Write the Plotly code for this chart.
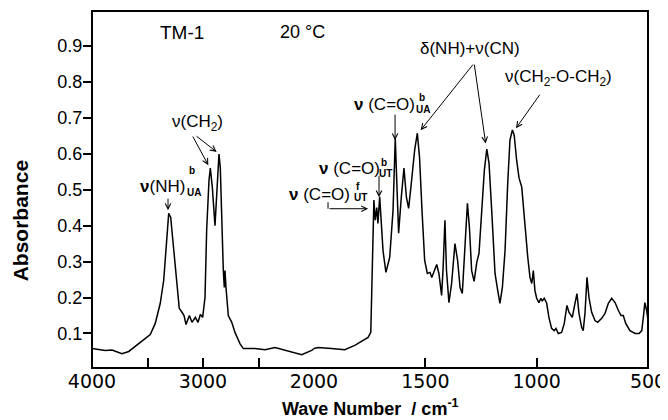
import plotly.graph_objects as go

# ---- data ----
wavenumber = [4000, 3880, 3820, 3730, 3669, 3579, 3475, 3430, 3385, 3354, 3333, 3309, 3291, 3264,
              3234, 3214, 3189, 3171, 3153, 3123, 3099, 3069, 3045, 3024, 3003, 2982, 2967, 2946,
              2934, 2916, 2892, 2877, 2856, 2844, 2831, 2817, 2808, 2802, 2793, 2772, 2741, 2712,
              2667, 2637, 2532, 2441, 2351, 2261, 2111, 2021, 2000,
              1982, 1922, 1862, 1817, 1757, 1745, 1740, 1735, 1731, 1725, 1718, 1713, 1705, 1697,
              1690, 1677, 1660, 1645, 1635, 1629, 1620, 1608, 1596, 1585, 1575, 1563, 1548, 1536,
              1526, 1515, 1503, 1491, 1479, 1471, 1464, 1449, 1439, 1427, 1420, 1412, 1405, 1394,
              1382, 1367, 1355, 1344, 1334, 1322, 1311, 1302, 1292, 1281, 1269, 1259, 1250, 1235,
              1224, 1214, 1202, 1187, 1175, 1165, 1154, 1142, 1130, 1120, 1109, 1101, 1090, 1079,
              1067, 1052, 1040, 1030, 1022, 1015, 1008, 1000, 990, 981, 975, 966, 955, 945, 933,
              921, 913, 903, 888, 876, 864, 855, 840, 828, 819, 810, 798, 791, 783, 774, 765, 753,
              738, 726, 708, 693, 678, 663, 648, 633, 621, 611, 600, 581, 558, 540, 528, 521, 514,
              506, 500]
absorbance = [0.058, 0.053, 0.054, 0.044, 0.050, 0.072, 0.097, 0.128, 0.184, 0.248, 0.340, 0.434, 0.423, 0.340,
              0.239, 0.170, 0.159, 0.150, 0.125, 0.150, 0.131, 0.145, 0.131, 0.153, 0.145, 0.200, 0.387, 0.526,
              0.560, 0.507, 0.400, 0.480, 0.599, 0.560, 0.387, 0.275, 0.228, 0.275, 0.228, 0.150, 0.131, 0.103,
              0.072, 0.058, 0.058, 0.055, 0.061, 0.053, 0.041, 0.053, 0.058,
              0.061, 0.058, 0.055, 0.067, 0.089, 0.103, 0.256, 0.443, 0.471, 0.415, 0.450, 0.406, 0.480, 0.400,
              0.330, 0.270, 0.312, 0.443, 0.643, 0.535, 0.379, 0.479, 0.560, 0.479, 0.448, 0.518, 0.610, 0.657,
              0.590, 0.443, 0.303, 0.267, 0.270, 0.256, 0.267, 0.292, 0.267, 0.206, 0.284, 0.415, 0.275, 0.186,
              0.239, 0.350, 0.303, 0.228, 0.211, 0.331, 0.462, 0.395, 0.275, 0.245, 0.298, 0.323, 0.415, 0.554,
              0.613, 0.574, 0.443, 0.267, 0.220, 0.184, 0.228, 0.331, 0.518, 0.638, 0.666, 0.652, 0.582, 0.532,
              0.507, 0.395, 0.312, 0.256, 0.239, 0.275, 0.220, 0.198, 0.186, 0.198, 0.190, 0.198, 0.184, 0.145, 0.114,
              0.108, 0.114, 0.100, 0.103, 0.128, 0.178, 0.159, 0.145, 0.184, 0.211, 0.156, 0.117, 0.108, 0.156, 0.256, 0.200, 0.159,
              0.136, 0.131, 0.142, 0.156, 0.184, 0.198, 0.186, 0.164, 0.150, 0.150, 0.128, 0.108, 0.100, 0.100, 0.108, 0.145, 0.186,
              0.164, 0.136]

x_ticks_high = [4000, 3000]
x_labels_high = ["4000", "3000"]
x_minor_high = [3500, 2500]
x_ticks_low = [2000, 1500, 1000, 500]
x_labels_low = ["2000", "1500", "1000", "500"]
y_ticks = [0.1, 0.2, 0.3, 0.4, 0.5, 0.6, 0.7, 0.8, 0.9]
y_labels = ["0.1", "0.2", "0.3", "0.4", "0.5", "0.6", "0.7", "0.8", "0.9"]

SPLIT = 2000
hi_x = [w for w in wavenumber if w >= SPLIT]
hi_y = [a for w, a in zip(wavenumber, absorbance) if w >= SPLIT]
lo_x = [w for w in wavenumber if w <= SPLIT]
lo_y = [a for w, a in zip(wavenumber, absorbance) if w <= SPLIT]

D = 222 / 556  # the abscissa scale doubles below 2000 cm-1

fig = go.Figure()
line = dict(color="black", width=1.5)
fig.add_trace(go.Scatter(x=hi_x, y=hi_y, xaxis="x", yaxis="y", mode="lines", line=line, hoverinfo="skip"))
fig.add_trace(go.Scatter(x=lo_x, y=lo_y, xaxis="x2", yaxis="y", mode="lines", line=line, hoverinfo="skip"))

tickfont_x = dict(family="DejaVu Sans", size=19, color="black")
common_x = dict(ticks="inside", ticklen=10, tickwidth=2, tickcolor="black", showgrid=False,
                zeroline=False, showline=False, anchor="y", tickfont=tickfont_x, automargin=False)

# the page body adds an 8 px offset, so the figure is 8 px smaller each way
fig.update_layout(
    width=660, height=412,
    margin=dict(l=84, r=20, t=3, b=52),
    paper_bgcolor="white", plot_bgcolor="white",
    showlegend=False,
    font=dict(family="Liberation Sans", color="black"),
    xaxis=dict(domain=[0, D], range=[4000, 2000], tickvals=x_ticks_high, ticktext=x_labels_high,
               minor=dict(tickvals=x_minor_high, ticks="inside", ticklen=10, tickwidth=2,
                          tickcolor="black", showgrid=False), **common_x),
    xaxis2=dict(domain=[D, 1], range=[2000, 500], tickvals=x_ticks_low, ticktext=x_labels_low, **common_x),
    yaxis=dict(range=[0.004, 0.997], tickvals=y_ticks, ticktext=y_labels, ticks="outside", ticklen=8,
               tickwidth=2, tickcolor="black", showgrid=False, zeroline=False, showline=False,
               anchor="x", ticklabelstandoff=-3, automargin=False,
               tickfont=dict(family="Liberation Sans", size=18, color="black")),
)

fig.add_shape(type="rect", xref="paper", yref="paper", x0=0, x1=1, y0=0, y1=1,
              line=dict(color="black", width=2), layer="above")

anns = []
def text(xref, x, y, s, size=17, xanchor="center", bold=False):
    anns.append(dict(xref=xref, yref="y", x=x, y=y, text=s, showarrow=False, xanchor=xanchor,
                     yanchor="middle", font=dict(size=size, family="Liberation Sans", color="black",
                                                 weight="bold" if bold else "normal")))

def arrow(xref, tail, head):
    anns.append(dict(xref=xref, yref="y", axref=xref, ayref="y", x=head[0], y=head[1],
                     ax=tail[0], ay=tail[1], text="", showarrow=True, arrowhead=5, arrowsize=1.1,
                     arrowwidth=1, arrowcolor="black", standoff=0, startstandoff=0))

# left region labels
text("x", 3189, 0.9386, "TM-1", size=19)
text("x", 2108, 0.9386, "20 °C", size=18)
text("x", 3054, 0.685, "ν(CH<sub>2</sub>)")
arrow("x", (3099, 0.652), (2952, 0.568))
arrow("x", (3072, 0.652), (2877, 0.605))
text("x", 3147, 0.5095, "<b>ν</b>(NH)", xanchor="right")
text("x", 3095, 0.5527, "b", size=10, bold=True)
text("x", 3081, 0.4928, "UA", size=10, bold=True)
arrow("x", (3315, 0.479), (3315, 0.443))

# right region labels
text("x2", 1299, 0.894, "δ(NH)+ν(CN)")
arrow("x2", (1281, 0.852), (1521, 0.6655))
arrow("x2", (1281, 0.852), (1229, 0.6285))
text("x2", 904, 0.8104, "ν(CH<sub>2</sub>-O-CH<sub>2</sub>)")
arrow("x2", (981, 0.7686), (1093, 0.671))

text("x2", 1537, 0.737, "<b>ν</b> (C=O)", xanchor="right")
text("x2", 1515, 0.7575, "b", size=10, bold=True)
text("x2", 1510, 0.724, "UA", size=10, bold=True)
arrow("x2", (1636, 0.7129), (1636, 0.6377))

text("x2", 1695, 0.5585, "<b>ν</b> (C=O)", xanchor="right")
text("x2", 1685, 0.5755, "b", size=10, bold=True)
text("x2", 1681, 0.5445, "UT", size=10, bold=True)
arrow("x2", (1708, 0.543), (1708, 0.479))

text("x2", 1829, 0.4859, "<b>ν</b> (C=O)", xanchor="right")
text("x2", 1802, 0.5095, "f", size=10, bold=True)
text("x2", 1793, 0.4775, "UT", size=10, bold=True)
fig.add_shape(type="line", xref="x2", yref="y", x0=1937, x1=1937, y0=0.465, y1=0.447,
              line=dict(color="black", width=1))
arrow("x2", (1937, 0.447), (1757, 0.447))

# axis titles
anns.append(dict(xref="paper", yref="paper", x=-0.1295, y=0.4137, text="Absorbance", textangle=-90,
                 showarrow=False, xanchor="center", yanchor="middle",
                 font=dict(size=21, family="Liberation Sans", color="black", weight="bold")))
anns.append(dict(xref="paper", yref="paper", x=0.5, y=-0.1108, text="Wave Number  / cm<sup>-1</sup>",
                 showarrow=False, xanchor="center", yanchor="middle",
                 font=dict(size=18, family="Liberation Sans", color="black", weight="bold")))

fig.update_layout(annotations=anns)
fig.write_html("out.html")
